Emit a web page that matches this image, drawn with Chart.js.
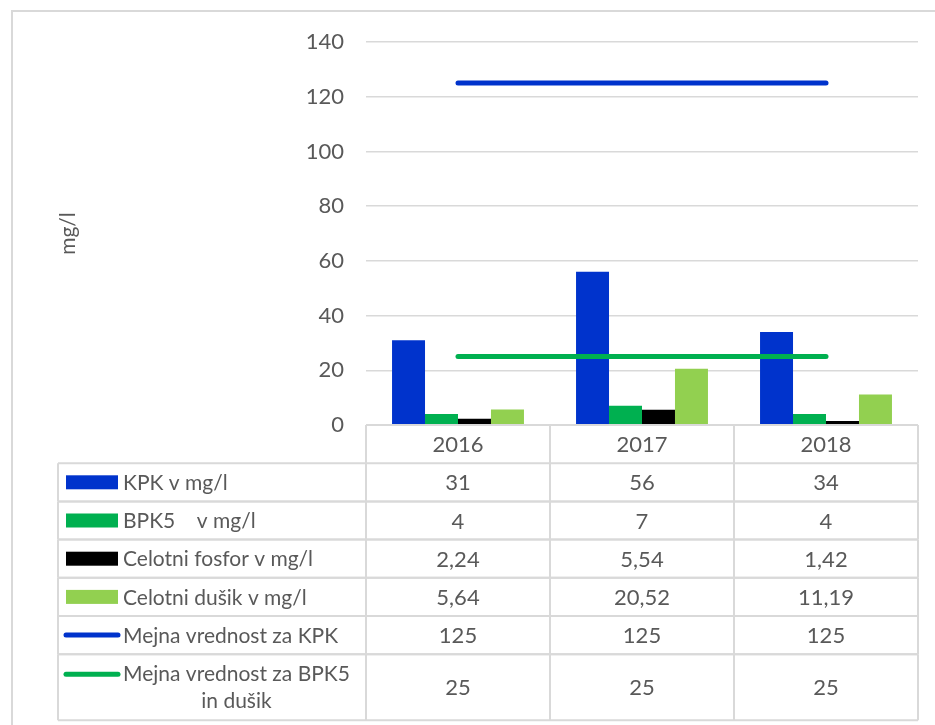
<!DOCTYPE html>
<html>
<head>
<meta charset="utf-8">
<script src="https://cdn.jsdelivr.net/npm/chart.js@4"></script>
<style>
body{margin:0;background:#fff;}
</style>
</head>
<body>
<canvas id="mycanvas" width="935" height="725"></canvas>
<script>
var years = ['2016', '2017', '2018'];
var kpk = [31, 56, 34];
var bpk5 = [4, 7, 4];
var fosfor = [2.24, 5.54, 1.42];
var dusik = [5.64, 20.52, 11.19];
var mejnaKpk = [125, 125, 125];
var mejnaBpk = [25, 25, 25];
var yTicks = [0, 20, 40, 60, 80, 100, 120, 140];
var seriesNames = ['KPK v mg/l', 'BPK5    v mg/l', 'Celotni fosfor v mg/l', 'Celotni dušik v mg/l',
  'Mejna vrednost za KPK', ['Mejna vrednost za BPK5', 'in dušik']];

var FONT = 'Lato';
var TXT = '#595959';
var GRID = '#d9d9d9';

function fmt(v) {
  return String(v).replace('.', ',');
}

// frame round the whole chart
var framePlugin = {
  id: 'frame',
  beforeDraw: function(chart) {
    var ctx = chart.ctx;
    ctx.save();
    ctx.fillStyle = '#fff';
    ctx.fillRect(0, 0, chart.width, chart.height);
    ctx.strokeStyle = GRID;
    ctx.lineWidth = 2;
    ctx.strokeRect(12, 11, chart.width + 10, chart.height + 10);
    ctx.restore();
  }
};

// data table under the plot, columns follow the x scale
var tablePlugin = {
  id: 'dataTable',
  afterDraw: function(chart) {
    var ctx = chart.ctx;
    var area = chart.chartArea;
    var xs = chart.scales.x;
    var colW = (area.right - area.left) / years.length;
    var rowH = 38.2, lastH = 66;
    var tableLeft = 58;
    var top = area.bottom;
    var sets = chart.data.datasets;
    var numFont = '22px ' + FONT;
    var labFont = '21px ' + FONT;

    ctx.save();
    ctx.strokeStyle = GRID;
    ctx.lineWidth = 2;
    ctx.font = numFont;
    ctx.fillStyle = TXT;
    ctx.textBaseline = 'middle';

    // header row
    ctx.beginPath();
    ctx.moveTo(area.left, top); ctx.lineTo(area.right, top);
    for (var c = 0; c <= years.length; c++) {
      ctx.moveTo(area.left + c * colW, top);
      ctx.lineTo(area.left + c * colW, top + rowH);
    }
    ctx.stroke();
    ctx.textAlign = 'center';
    for (var i = 0; i < years.length; i++) {
      ctx.fillText(years[i], xs.getPixelForValue(i), top + rowH / 2 + 1);
    }

    // body rows
    var y = top + rowH;
    for (var r = 0; r < sets.length; r++) {
      var h = (r === sets.length - 1) ? lastH : rowH;
      ctx.beginPath();
      ctx.strokeStyle = GRID;
      ctx.lineWidth = 2;
      ctx.moveTo(tableLeft, y); ctx.lineTo(area.right, y);
      ctx.moveTo(tableLeft, y + h); ctx.lineTo(area.right, y + h);
      ctx.moveTo(tableLeft, y); ctx.lineTo(tableLeft, y + h);
      for (var c2 = 0; c2 <= years.length; c2++) {
        ctx.moveTo(area.left + c2 * colW, y);
        ctx.lineTo(area.left + c2 * colW, y + h);
      }
      ctx.stroke();

      var ds = sets[r];
      var name = seriesNames[r];
      var multi = Array.isArray(name);
      var ly = multi ? y + 20 : y + h / 2;

      // legend key
      if (ds.type === 'line') {
        ctx.beginPath();
        ctx.strokeStyle = ds.borderColor;
        ctx.lineWidth = 5;
        ctx.lineCap = 'round';
        ctx.moveTo(66, ly); ctx.lineTo(118, ly);
        ctx.stroke();
        ctx.lineCap = 'butt';
      } else {
        ctx.fillStyle = ds.backgroundColor;
        ctx.fillRect(66, ly - 7, 52, 14);
      }

      ctx.fillStyle = TXT;
      ctx.font = labFont;
      if (multi) {
        ctx.textAlign = 'center';
        var w = ctx.measureText(name[0]).width;
        var cx = 123 + w / 2;
        ctx.fillText(name[0], cx, y + 20);
        ctx.fillText(name[1], cx, y + 47);
      } else {
        ctx.textAlign = 'left';
        ctx.fillText(name, 123, ly + 1);
      }

      ctx.font = numFont;
      ctx.textAlign = 'center';
      for (var k = 0; k < ds.data.length; k++) {
        ctx.fillText(fmt(ds.data[k]), xs.getPixelForValue(k), y + h / 2 + 1);
      }
      y += h;
    }
    ctx.restore();
  }
};

var chartdata = {
  labels: years,
  datasets: [
    { type: 'bar', label: 'KPK v mg/l', data: kpk, backgroundColor: '#0033cc', order: 1 },
    { type: 'bar', label: 'BPK5 v mg/l', data: bpk5, backgroundColor: '#00b050', order: 1 },
    { type: 'bar', label: 'Celotni fosfor v mg/l', data: fosfor, backgroundColor: '#000000', order: 1 },
    { type: 'bar', label: 'Celotni dušik v mg/l', data: dusik, backgroundColor: '#92d050', order: 1 },
    { type: 'line', label: 'Mejna vrednost za KPK', data: mejnaKpk, borderColor: '#0033cc',
      borderWidth: 5, borderCapStyle: 'round', pointRadius: 0, fill: false, order: 0 },
    { type: 'line', label: 'Mejna vrednost za BPK5 in dušik', data: mejnaBpk, borderColor: '#00b050',
      borderWidth: 5, borderCapStyle: 'round', pointRadius: 0, fill: false, order: 0 }
  ]
};

var ctx = document.getElementById('mycanvas');
var chart = new Chart(ctx, {
  type: 'bar',
  data: chartdata,
  plugins: [framePlugin, tablePlugin],
  options: {
    responsive: false,
    animation: false,
    layout: { padding: { left: 0, top: 42, right: 17, bottom: 300 } },
    datasets: {
      bar: { categoryPercentage: 0.717, barPercentage: 1 }
    },
    plugins: {
      legend: { display: false },
      tooltip: { enabled: false }
    },
    scales: {
      x: { display: false },
      y: {
        min: 0,
        max: 140,
        afterBuildTicks: function(scale) {
          scale.ticks = yTicks.map(function(v) { return { value: v }; });
        },
        afterFit: function(scale) { scale.width = 366; },
        border: { display: false },
        grid: { color: GRID, lineWidth: 1.5, drawTicks: false },
        ticks: { padding: 22, color: TXT, font: { family: FONT, size: 22 } },
        title: {
          display: true,
          text: 'mg/l',
          color: TXT,
          font: { family: FONT, size: 21 },
          padding: { top: 56, bottom: 0 }
        }
      }
    }
  }
});
</script>
</body>
</html>
